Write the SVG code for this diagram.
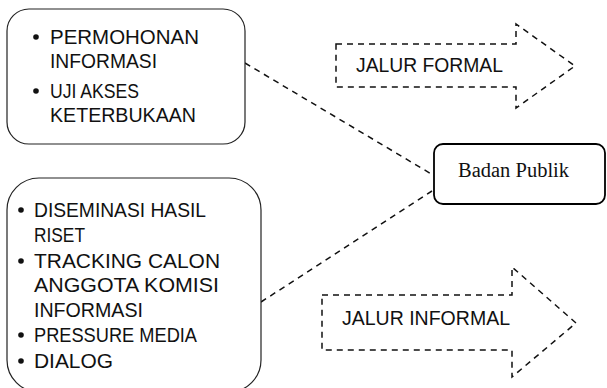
<svg xmlns="http://www.w3.org/2000/svg" width="607" height="388" viewBox="0 0 607 388">
<style>
.box{fill:#fff;stroke:#222;stroke-width:1.2}
.lst{font-family:"Liberation Sans",Arial,sans-serif;font-size:19.5px;fill:#111}
.blt{fill:#111}
.dash{fill:none;stroke:#111;stroke-width:1.5;stroke-dasharray:6,5}
.arr{fill:#fff;stroke:#111;stroke-width:1.5;stroke-dasharray:6,5}
.bp{fill:#fff;stroke:#000;stroke-width:1.8}
.serif{font-family:"Liberation Serif","Times New Roman",serif;font-size:20.5px;fill:#111}
</style>
<rect width="607" height="388" fill="#fff"/>
<g id="connectors">
<line class="dash" x1="245" y1="63" x2="433" y2="175"/>
<line class="dash" x1="261" y1="302" x2="432" y2="191"/>
</g>
<g id="formal-box">
<rect class="box" x="7" y="9" width="238" height="135" rx="22" ry="22"/>
<circle class="blt" cx="36" cy="37" r="2.8"/>
<text class="lst" x="50" y="44" textLength="149" lengthAdjust="spacingAndGlyphs">PERMOHONAN</text>
<text class="lst" x="50" y="68" textLength="107" lengthAdjust="spacingAndGlyphs">INFORMASI</text>
<circle class="blt" cx="36" cy="91" r="2.8"/>
<text class="lst" x="50" y="98" textLength="89" lengthAdjust="spacingAndGlyphs">UJI AKSES</text>
<text class="lst" x="50" y="122" textLength="146" lengthAdjust="spacingAndGlyphs">KETERBUKAAN</text>
</g>
<g id="informal-box">
<rect class="box" x="7" y="178" width="254" height="214" rx="32" ry="32"/>
<circle class="blt" cx="21" cy="210" r="2.8"/>
<text class="lst" x="34" y="217" textLength="172" lengthAdjust="spacingAndGlyphs">DISEMINASI HASIL</text>
<text class="lst" x="34" y="242" textLength="51" lengthAdjust="spacingAndGlyphs">RISET</text>
<circle class="blt" cx="21" cy="261" r="2.8"/>
<text class="lst" x="34" y="268" textLength="186" lengthAdjust="spacingAndGlyphs">TRACKING CALON</text>
<text class="lst" x="34" y="292" textLength="185" lengthAdjust="spacingAndGlyphs">ANGGOTA KOMISI</text>
<text class="lst" x="34" y="317" textLength="109" lengthAdjust="spacingAndGlyphs">INFORMASI</text>
<circle class="blt" cx="21" cy="335" r="2.8"/>
<text class="lst" x="34" y="342" textLength="163" lengthAdjust="spacingAndGlyphs">PRESSURE MEDIA</text>
<circle class="blt" cx="21" cy="361" r="2.8"/>
<text class="lst" x="34" y="368" textLength="79" lengthAdjust="spacingAndGlyphs">DIALOG</text>
</g>
<g id="jalur-formal">
<polygon class="arr" points="336,44 516,44 516,24 575,66 516,108 516,87 336,87"/>
<text class="lst" x="356" y="72" textLength="147" lengthAdjust="spacingAndGlyphs">JALUR FORMAL</text>
</g>
<g id="jalur-informal">
<polygon class="arr" points="322,295 512,295 512,267 576,323 512,377 512,350 322,350"/>
<text class="lst" x="342" y="325" textLength="168" lengthAdjust="spacingAndGlyphs">JALUR INFORMAL</text>
</g>
<g id="badan-publik">
<rect class="bp" x="434" y="144" width="171" height="60" rx="9" ry="9"/>
<text class="serif" x="458" y="177">Badan Publik</text>
</g>
</svg>
